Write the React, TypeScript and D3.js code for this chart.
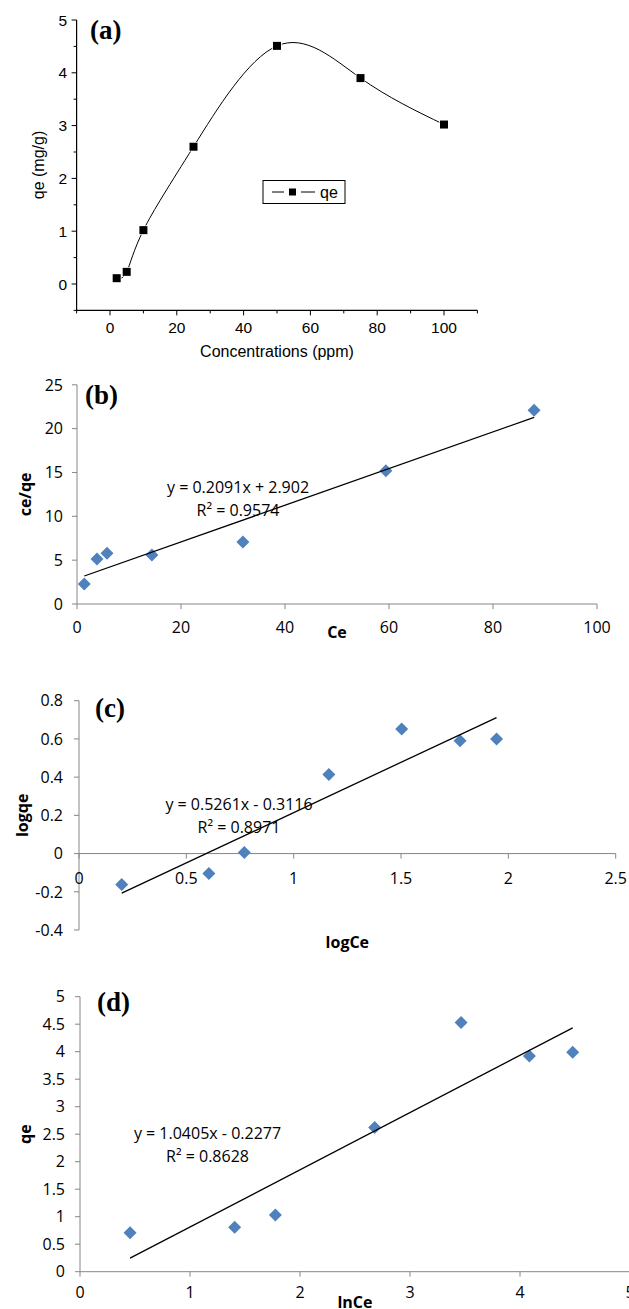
import React from "react";
import * as d3 from "d3";

// Panel (a): adsorption capacity vs concentration
const aConc = [2, 5, 10, 25, 50, 75, 100];
const aQe = [0.11, 0.23, 1.02, 2.6, 4.51, 3.9, 3.02];
const aXTicks = [0, 20, 40, 60, 80, 100];
const aYTicks = [0, 1, 2, 3, 4, 5];

// Panel (b): Langmuir
const bCe = [1.4, 3.85, 5.77, 14.4, 31.9, 59.4, 87.9];
const bCeQe = [2.28, 5.13, 5.78, 5.59, 7.07, 15.2, 22.1];
const bFit = [0.2091, 2.902];
const bXTicks = [0, 20, 40, 60, 80, 100];
const bYTicks = [0, 5, 10, 15, 20, 25];

// Panel (c): Freundlich
const cLogCe = [0.199, 0.605, 0.77, 1.164, 1.503, 1.775, 1.945];
const cLogQe = [-0.162, -0.104, 0.005, 0.414, 0.652, 0.591, 0.6];
const cFit = [0.5261, -0.3116];
const cXTicks = [0, 0.5, 1, 1.5, 2, 2.5];
const cYTicks = [-0.4, -0.2, 0, 0.2, 0.4, 0.6, 0.8];

// Panel (d): Temkin
const dLnCe = [0.455, 1.406, 1.776, 2.679, 3.464, 4.085, 4.479];
const dQe = [0.71, 0.807, 1.03, 2.62, 4.53, 3.92, 3.99];
const dFit = [1.0405, -0.2277];
const dXTicks = [0, 1, 2, 3, 4, 5];
const dYTicks = [0, 0.5, 1, 1.5, 2, 2.5, 3, 3.5, 4, 4.5, 5];

const XL = "'Open Sans', sans-serif";
const AR = "'Liberation Sans', Arial, sans-serif";
const SERIF = "'Liberation Serif', 'Times New Roman', serif";
const AXC = "#868686";
const BLUE = "#4F81BD";
const FS = 16;

function Diamond({ x, y }: { x: number; y: number }) {
  const r = 6.5;
  return <path d={`M${x},${y - r}L${x + r},${y}L${x},${y + r}L${x - r},${y}Z`} fill={BLUE} />;
}

type ExcelProps = {
  xs: number[]; ys: number[]; fit: number[];
  xDom: number[]; xRange: number[]; yDom: number[]; yRange: number[];
  xTicks: number[]; yTicks: number[];
  xAxisAt: number; tickFmt: (v: number) => string;
  xLabel: string; xLabelY: number; yLabel: string; yLabelX: number;
  tag: string; tagX: number; tagY: number;
  eq: string; r2: string; eqX: number; eqY: number;
  xTickY: number; yTickX: number;
};

function ExcelPanel(p: ExcelProps) {
  const x = d3.scaleLinear().domain(p.xDom).range(p.xRange);
  const y = d3.scaleLinear().domain(p.yDom).range(p.yRange);
  const x0 = d3.min(p.xs)!, x1 = d3.max(p.xs)!;
  const fy = (v: number) => p.fit[0] * v + p.fit[1];
  const axY = y(p.xAxisAt);
  return (
    <g>
      {/* y axis */}
      <line x1={x(p.xDom[0])} x2={x(p.xDom[0])} y1={p.yRange[0]} y2={p.yRange[1]} stroke={AXC} strokeWidth={1} />
      {p.yTicks.map((t) => (
        <g key={"y" + t}>
          <line x1={x(p.xDom[0]) - 5} x2={x(p.xDom[0])} y1={y(t)} y2={y(t)} stroke={AXC} />
          <text x={p.yTickX} y={y(t)} dy="0.36em" textAnchor="end" fontFamily={XL} fontSize={FS} fill="#000">
            {p.tickFmt(t)}
          </text>
        </g>
      ))}
      {/* x axis */}
      <line x1={p.xRange[0]} x2={p.xRange[1]} y1={axY} y2={axY} stroke={AXC} strokeWidth={1} />
      {p.xTicks.map((t) => (
        <g key={"x" + t}>
          <line x1={x(t)} x2={x(t)} y1={axY} y2={axY + 5} stroke={AXC} />
          <text x={x(t)} y={p.xTickY} textAnchor="middle" fontFamily={XL} fontSize={FS} fill="#000">
            {p.tickFmt(t)}
          </text>
        </g>
      ))}
      {p.xs.map((v, i) => (
        <Diamond key={"m" + i} x={x(v)} y={y(p.ys[i])} />
      ))}
      <line x1={x(x0)} y1={y(fy(x0))} x2={x(x1)} y2={y(fy(x1))} stroke="#000" strokeWidth={1.3} />
      <text x={p.eqX} y={p.eqY} textAnchor="middle" fontFamily={XL} fontSize={FS} fill="#000">{p.eq}</text>
      <text x={p.eqX} y={p.eqY + 23} textAnchor="middle" fontFamily={XL} fontSize={FS} fill="#000">
        {"R² = " + p.r2}
      </text>
      <text x={(p.xRange[0] + p.xRange[1]) / 2} y={p.xLabelY} textAnchor="middle" fontFamily={XL} fontWeight="bold" fontSize={FS}>{p.xLabel}</text>
      <text transform={`translate(${p.yLabelX},${(p.yRange[0] + p.yRange[1]) / 2}) rotate(-90)`} textAnchor="middle" dy="0.35em" fontFamily={XL} fontWeight="bold" fontSize={FS}>{p.yLabel}</text>
      <text x={p.tagX} y={p.tagY} fontFamily={SERIF} fontWeight="bold" fontSize={27} dy="0.35em">{p.tag}</text>
    </g>
  );
}

function PanelA() {
  const x = d3.scaleLinear().domain([-10, 110]).range([76.6, 477.4]);
  const y = d3.scaleLinear().domain([-0.5, 5]).range([310.4, 20]);
  const pts: [number, number][] = aConc.map((c, i) => [c, aQe[i]]);
  const line = d3.line<[number, number]>().x((d) => x(d[0])).y((d) => y(d[1])).curve(d3.curveNatural);
  const xMinor = d3.range(-10, 111, 10).filter((v) => v % 20 !== 0);
  const yMinor = d3.range(-0.5, 5, 1);
  return (
    <g>
      <line x1={x(-10)} x2={x(-10)} y1={y(-0.5)} y2={y(5)} stroke="#000" strokeWidth={1.2} />
      <line x1={x(-10)} x2={x(110)} y1={y(-0.5)} y2={y(-0.5)} stroke="#000" strokeWidth={1.2} />
      {aYTicks.map((t) => (
        <g key={"ay" + t}>
          <line x1={x(-10) - 5} x2={x(-10)} y1={y(t)} y2={y(t)} stroke="#000" />
          <text x={67} y={y(t)} dy="0.36em" textAnchor="end" fontFamily={AR} fontSize={15.5}>{t}</text>
        </g>
      ))}
      {yMinor.map((t) => (
        <line key={"aym" + t} x1={x(-10) - 3} x2={x(-10)} y1={y(t)} y2={y(t)} stroke="#000" />
      ))}
      {aXTicks.map((t) => (
        <g key={"ax" + t}>
          <line x1={x(t)} x2={x(t)} y1={y(-0.5)} y2={y(-0.5) + 5} stroke="#000" />
          <text x={x(t)} y={333} textAnchor="middle" fontFamily={AR} fontSize={15.5}>{t}</text>
        </g>
      ))}
      {xMinor.map((t) => (
        <line key={"axm" + t} x1={x(t)} x2={x(t)} y1={y(-0.5)} y2={y(-0.5) + 3} stroke="#000" />
      ))}
      <path d={line(pts) || ""} fill="none" stroke="#000" strokeWidth={1} />
      {pts.map((d, i) => (
        <rect key={"as" + i} x={x(d[0]) - 4} y={y(d[1]) - 4} width={8} height={8} fill="#000" stroke="#fff" strokeWidth={1.5} paintOrder="stroke" />
      ))}
      <text x={(76.6 + 477.4) / 2} y={357} textAnchor="middle" fontFamily={AR} fontSize={16}>Concentrations (ppm)</text>
      <text transform={`translate(38,165) rotate(-90)`} textAnchor="middle" dy="0.35em" fontFamily={AR} fontSize={16}>qe (mg/g)</text>
      <text x={90} y={30} dy="0.35em" fontFamily={SERIF} fontWeight="bold" fontSize={27}>(a)</text>
      {/* legend */}
      <rect x={263} y={180.5} width={82} height={23} fill="#fff" stroke="#000" strokeWidth={1} />
      <line x1={272} x2={284} y1={192} y2={192} stroke="#000" />
      <rect x={289} y={188.5} width={7} height={7} fill="#000" />
      <line x1={301} x2={315} y1={192} y2={192} stroke="#000" />
      <text x={320} y={197.5} fontFamily={AR} fontSize={16}>qe</text>
    </g>
  );
}

export default function App() {
  const fmt = (v: number) => (Math.round(v * 10) / 10).toString();
  return (
    <svg width={629} height={1309} style={{ position: "absolute", left: 0, top: 0, background: "#fff" }}>
      <rect width={629} height={1309} fill="#fff" />
      <PanelA />
      <ExcelPanel
        xs={bCe} ys={bCeQe} fit={bFit}
        xDom={[0, 100]} xRange={[77, 597]} yDom={[0, 25]} yRange={[604, 384.8]}
        xTicks={bXTicks} yTicks={bYTicks} xAxisAt={0} tickFmt={fmt}
        xLabel="Ce" xLabelY={638} yLabel="ce/qe" yLabelX={25}
        tag="(b)" tagX={85} tagY={395}
        eq="y = 0.2091x + 2.902" r2="0.9574" eqX={238} eqY={493}
        xTickY={633} yTickX={63}
      />
      <ExcelPanel
        xs={cLogCe} ys={cLogQe} fit={cFit}
        xDom={[0, 2.5]} xRange={[79, 615.7]} yDom={[-0.4, 0.8]} yRange={[930, 700.7]}
        xTicks={cXTicks} yTicks={cYTicks} xAxisAt={0} tickFmt={fmt}
        xLabel="logCe" xLabelY={948} yLabel="logqe" yLabelX={22}
        tag="(c)" tagX={95} tagY={708}
        eq="y = 0.5261x - 0.3116" r2="0.8971" eqX={239} eqY={810}
        xTickY={884} yTickX={63}
      />
      <ExcelPanel
        xs={dLnCe} ys={dQe} fit={dFit}
        xDom={[0, 5]} xRange={[80, 630]} yDom={[0, 5]} yRange={[1271.7, 996.7]}
        xTicks={dXTicks} yTicks={dYTicks} xAxisAt={0} tickFmt={fmt}
        xLabel="lnCe" xLabelY={1308} yLabel="qe" yLabelX={25}
        tag="(d)" tagX={97} tagY={1002}
        eq="y = 1.0405x - 0.2277" r2="0.8628" eqX={207.5} eqY={1139}
        xTickY={1298} yTickX={65}
      />
    </svg>
  );
}
